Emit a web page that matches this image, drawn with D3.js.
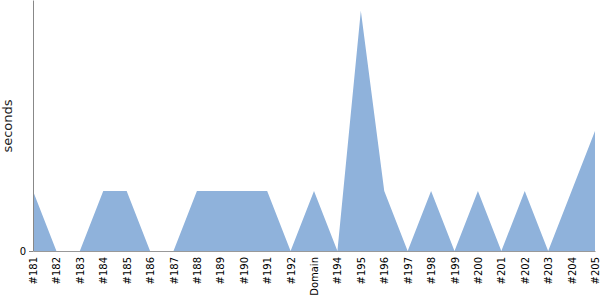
<!DOCTYPE html>
<html>
<head>
<meta charset="utf-8">
<script src="https://cdn.jsdelivr.net/npm/d3@7"></script>
<style>
  body { margin: 0; background: #fff; }
  svg { display: block; }
</style>
</head>
<body>
<div id="chart"></div>
<script>
// categories along the x axis
var vCategories = ["#181", "#182", "#183", "#184", "#185", "#186", "#187", "#188", "#189",
    "#190", "#191", "#192", "Domain", "#194", "#195", "#196", "#197", "#198", "#199",
    "#200", "#201", "#202", "#203", "#204", "#205"];
// seconds per category
var vSeconds = [1, 0, 0, 1, 1, 0, 0, 1, 1, 1, 1, 0, 1, 0, 4, 1, 0, 1, 0, 1, 0, 1, 0, 1, 2];
var vYTicks = [0];

var vFont = "DejaVu Sans";

var vMargin = { mTop: 0, mRight: 5, mBottom: 49, mLeft: 33 },
    vWidth = 600 - vMargin.mLeft - vMargin.mRight,
    vHeight = 300 - vMargin.mTop - vMargin.mBottom;

var svg = d3.select("#chart")
    .append("svg")
    .attr("width", 600)
    .attr("height", 300)
    .append("g")
    .attr("transform", "translate(" + vMargin.mLeft + "," + vMargin.mTop + ")");

var vX = d3.scalePoint()
    .domain(vCategories)
    .range([0, vWidth]);

var vY = d3.scaleLinear()
    .domain([0, 4.18])
    .range([vHeight, 0]);

var vData = vCategories.map(function (aCat, aIdx) {
    return { cat: aCat, value: vSeconds[aIdx] };
});

// area
var vArea = d3.area()
    .x(function (d) { return vX(d.cat); })
    .y0(vY(0))
    .y1(function (d) { return vY(d.value); });

svg.append("path")
    .datum(vData)
    .attr("fill", "#8fb2db")
    .attr("d", vArea);

// x axis
var vXAxis = svg.append("g")
    .attr("transform", "translate(0," + vHeight + ")")
    .call(d3.axisBottom(vX).tickSize(0).tickSizeOuter(0).tickPadding(0))
    .attr("font-family", vFont)
    .attr("font-size", 10);
vXAxis.select(".domain").attr("stroke", "#999");
vXAxis.selectAll("text")
    .attr("transform", "rotate(-90)")
    .attr("x", -6)
    .attr("y", 0)
    .attr("dy", "0.35em")
    .style("text-anchor", "end")
    .attr("fill", "#000");

// y axis
var vYAxis = svg.append("g")
    .call(d3.axisLeft(vY).tickValues(vYTicks).tickFormat(d3.format("d"))
        .tickSize(4).tickSizeOuter(0).tickPadding(3))
    .attr("font-family", vFont)
    .attr("font-size", 10);
vYAxis.select(".domain").attr("stroke", "#888");
vYAxis.selectAll("line").attr("stroke", "#888");
vYAxis.selectAll("text").attr("fill", "#000");

// y label
svg.append("text")
    .attr("transform", "rotate(-90)")
    .attr("x", -126)
    .attr("y", -21)
    .attr("font-family", vFont)
    .attr("font-size", 13)
    .style("text-anchor", "middle")
    .attr("fill", "#222")
    .text("seconds");
</script>
</body>
</html>
